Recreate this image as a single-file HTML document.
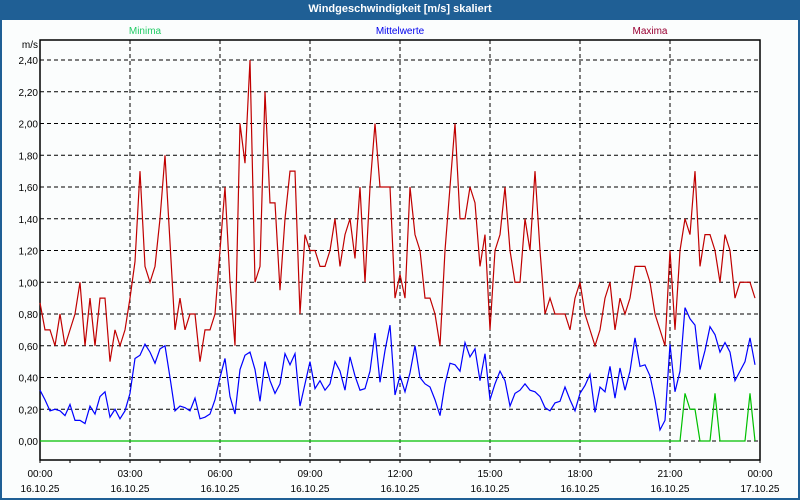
<!DOCTYPE html>
<html><head><meta charset="utf-8"><style>
body{margin:0;width:800px;height:500px;overflow:hidden;background:#fff;font-family:"Liberation Sans",sans-serif}
#frame{position:absolute;left:0;top:0;width:796px;height:478px;border:2px solid #1f5f95;border-top:20px solid #1f5f95;background:#fbfdfd}
#title{position:absolute;left:0;top:0;width:800px;height:20px;line-height:19px;text-align:center;color:#fff;font-weight:bold;font-size:11px}
svg{position:absolute;left:0;top:0}
</style></head><body>
<div id="frame"></div>
<div id="title">Windgeschwindigkeit [m/s] skaliert</div>
<svg id="chart" width="800" height="500"></svg>
<script>
const yTicks=[0,0.2,0.4,0.6,0.8,1.0,1.2,1.4,1.6,1.8,2.0,2.2,2.4];
const xTickTimes=["00:00","03:00","06:00","09:00","12:00","15:00","18:00","21:00","00:00"];
const xTickDates=["16.10.25","16.10.25","16.10.25","16.10.25","16.10.25","16.10.25","16.10.25","16.10.25","17.10.25"];
const maxima=[0.87,0.7,0.7,0.6,0.8,0.6,0.7,0.8,1.0,0.6,0.9,0.6,0.9,0.9,0.5,0.7,0.6,0.7,0.9,1.13,1.7,1.1,1.0,1.1,1.4,1.8,1.25,0.7,0.9,0.7,0.8,0.8,0.5,0.7,0.7,0.8,
1.2,1.6,1.0,0.6,2.0,1.75,2.4,1.0,1.1,2.2,1.5,1.5,0.95,1.4,1.7,1.7,0.8,1.3,1.2,1.2,1.1,1.1,1.2,1.4,1.1,1.3,1.4,1.15,1.6,1.0,1.6,2.0,1.6,1.6,1.6,0.9,
1.05,0.9,1.6,1.3,1.2,0.9,0.9,0.8,0.6,1.2,1.6,2.0,1.4,1.4,1.6,1.5,1.1,1.3,0.7,1.2,1.3,1.6,1.2,1.0,1.0,1.4,1.2,1.7,1.2,0.8,0.9,0.8,0.8,0.8,0.7,0.9,
1.0,0.8,0.7,0.6,0.7,0.9,1.0,0.7,0.9,0.8,0.9,1.1,1.1,1.1,1.0,0.8,0.7,0.6,1.2,0.7,1.2,1.4,1.3,1.7,1.1,1.3,1.3,1.2,1.0,1.3,1.2,0.9,1.0,1.0,1.0,0.9];
const mittelwerte=[0.32,0.26,0.19,0.2,0.19,0.16,0.23,0.13,0.13,0.11,0.22,0.17,0.28,0.31,0.15,0.2,0.14,0.19,0.3,0.52,0.54,0.61,0.56,0.49,0.58,0.6,0.4,0.19,0.22,0.21,0.19,0.27,0.14,0.15,0.17,0.26,
0.4,0.52,0.28,0.17,0.45,0.54,0.56,0.45,0.25,0.5,0.38,0.3,0.36,0.55,0.48,0.55,0.22,0.36,0.5,0.33,0.38,0.32,0.36,0.5,0.44,0.32,0.53,0.41,0.32,0.33,0.44,0.68,0.37,0.57,0.73,0.29,
0.41,0.31,0.43,0.6,0.4,0.36,0.34,0.26,0.16,0.36,0.49,0.48,0.44,0.62,0.53,0.58,0.38,0.55,0.26,0.36,0.44,0.38,0.22,0.3,0.32,0.36,0.32,0.31,0.28,0.21,0.19,0.24,0.25,0.34,0.26,0.19,
0.3,0.35,0.42,0.18,0.34,0.31,0.47,0.27,0.46,0.32,0.44,0.65,0.47,0.48,0.41,0.26,0.07,0.13,0.61,0.31,0.44,0.84,0.77,0.73,0.45,0.57,0.72,0.67,0.56,0.62,0.56,0.38,0.44,0.5,0.65,0.48];
const minima=[0,0,0,0,0,0,0,0,0,0,0,0,0,0,0,0,0,0,0,0,0,0,0,0,0,0,0,0,0,0,0,0,0,0,0,0,
0,0,0,0,0,0,0,0,0,0,0,0,0,0,0,0,0,0,0,0,0,0,0,0,0,0,0,0,0,0,0,0,0,0,0,0,
0,0,0,0,0,0,0,0,0,0,0,0,0,0,0,0,0,0,0,0,0,0,0,0,0,0,0,0,0,0,0,0,0,0,0,0,
0,0,0,0,0,0,0,0,0,0,0,0,0,0,0,0,0,0,0,0,0,0.3,0.2,0.2,0,0,0,0.3,0,0,0,0,0,0,0.3,0];

const L=40,R=760,T=40,B=460;
const y=v=>441-v*(381/2.4);
const x=i=>L+i*(R-L)/144;
const xh=h=>L+h*(R-L)/24;
const svg=document.getElementById('chart');
const NS='http://www.w3.org/2000/svg';
function mk(tag,attrs,parent){const e=document.createElementNS(NS,tag);for(const k in attrs)e.setAttribute(k,attrs[k]);(parent||svg).appendChild(e);return e;}
function txt(s,xx,yy,anchor,fill,size){const t=mk('text',{x:xx,y:yy,'text-anchor':anchor,fill:fill,'font-size':size||11,'font-family':'Liberation Sans, sans-serif'});t.textContent=s;return t;}

yTicks.forEach(v=>{
  const g=mk('line',{x1:L,x2:R,y1:y(v),y2:y(v),stroke:'#000','stroke-dasharray':'4,3','stroke-width':1});
  
  
  const t=txt(v.toFixed(2).replace('.',','),38,y(v)+4,'end','#000',10);
  
  
});
xTickTimes.forEach((s,i)=>{
  const xx=xh(i*3);
  if(i>0&&i<8){const g=mk('line',{x1:xx,x2:xx,y1:T,y2:B,stroke:'#000','stroke-dasharray':'4,3'});
  
  }
  const t=txt(s,xx,477,'middle','#000',10);
  
  
  const d=txt(xTickDates[i],xx,492,'middle','#000',10);
  
  
});
for(let h=0;h<=24;h++){const tk=mk('line',{x1:xh(h),x2:xh(h),y1:B,y2:B+3,stroke:'#000'});

}
const box=mk('rect',{x:L,y:T,width:R-L,height:B-T,fill:'none',stroke:'#000','stroke-width':1.5});


const unit=txt('m/s',38,48,'end','#000',10);



function series(arr,color,name){
  const p=mk('polyline',{points:arr.map((v,i)=>x(i)+','+y(v)).join(' '),fill:'none',stroke:color,'stroke-width':1.2});
  
  
}
series(minima,'#00c000','minima-line');
series(mittelwerte,'#0000ff','mittelwerte-line');
series(maxima,'#c00000','maxima-line');

const l1=txt('Minima',145,34,'middle','#22cc66',10);


const l2=txt('Mittelwerte',400,34,'middle','#0000ee',10);


const l3=txt('Maxima',650,34,'middle','#990033',10);


</script>
</body></html>
